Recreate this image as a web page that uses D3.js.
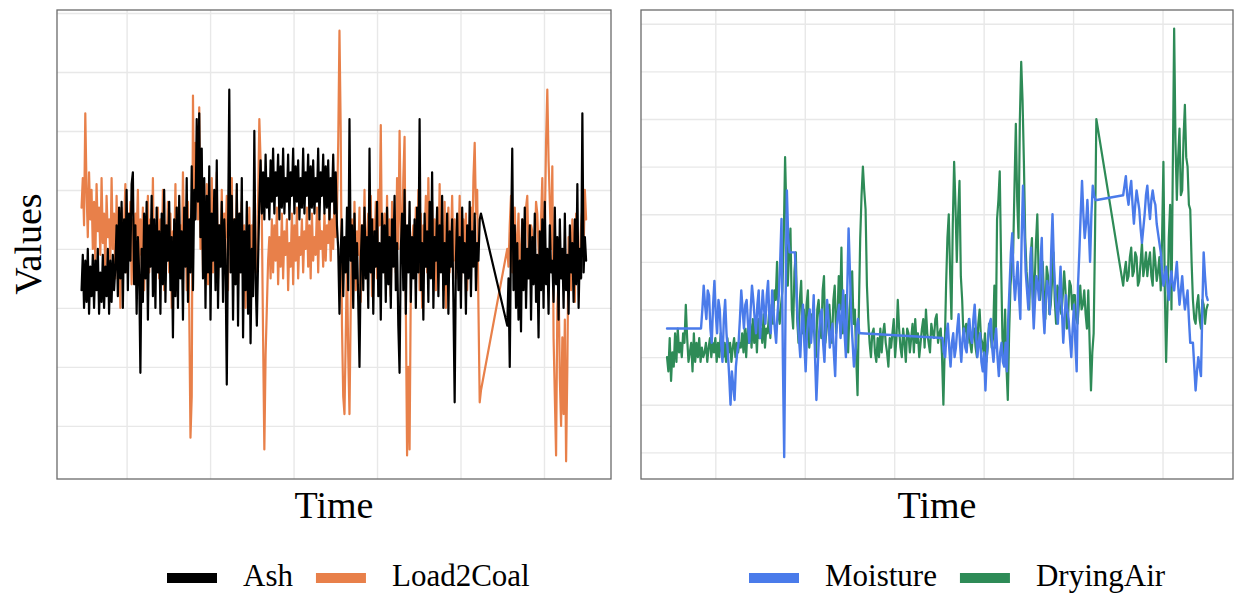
<!DOCTYPE html>
<html>
<head>
<meta charset="utf-8">
<script src="https://cdn.jsdelivr.net/npm/d3@7"></script>
<style>
body { margin: 0; background: #fff; }
svg { display: block; }
text { font-family: "Liberation Serif", "Times New Roman", serif; fill: #000; }
</style>
</head>
<body>
<svg id="chart" width="1235" height="594"></svg>
<script>
// readings are evenly spaced inside each run (time units)
var fineStep = 1.5;
var coarseStep = 3;

var timeTicks = [100, 200, 300, 400, 500, 600];
var leftValueTicks = [10, 20, 30, 40, 50, 60, 70, 80];
var rightValueTicks = [10, 20, 30, 40, 50, 60, 70, 80, 90, 100];

var leftLabels = ['Ash', 'Load2Coal'];
var rightLabels = ['Moisture', 'DryingAir'];

// left panel: two runs of readings, t = 46.. and t = 556..
var leftRunStarts = [46, 556];

var ashRun1 = [
  33, 39, 30, 38, 31, 40, 29, 37, 32, 39, 30, 38, 33, 40, 29, 36, 31, 39, 30, 37,
  32, 40, 29, 38, 31, 39, 33, 37,
  44, 32, 47, 35, 48, 30, 45, 36, 50, 33, 46, 38, 51, 53, 34, 44, 29, 42, 36, 19,
  40, 31, 46, 35, 48, 28, 44, 37, 49, 32, 45, 30, 47, 36, 43, 29, 46, 34, 50, 31,
  44, 38, 48, 33, 42, 25, 45, 32, 47, 30, 49, 35, 43, 28, 47, 37, 52, 31, 45, 36,
  54, 33, 50, 45, 62,
  48, 63, 42, 57, 35, 52, 30, 49, 36, 54, 28, 46, 38, 50, 33, 55, 30, 44, 37, 48,
  31, 45, 38, 17, 42, 67, 36, 49, 28, 45, 34, 51, 27, 46, 36, 52, 25, 43, 33, 48,
  29, 44, 24, 40, 32, 60, 35,
  27, 38, 48, 55, 46, 53, 45, 56, 47, 52, 45, 55, 48, 57, 46, 53, 49, 56, 45, 54,
  47, 57, 46, 52, 48, 56, 45, 53, 49, 57, 46, 54, 48, 55, 45, 52, 47, 57, 46, 53,
  49, 56, 45, 54, 47, 55, 46, 52, 48, 57, 45, 53, 49, 56, 46, 54, 47, 55, 45, 52,
  48, 56, 46, 53, 44, 40,
  29, 40, 45, 32, 42, 36, 47, 33, 62, 38, 44, 30, 46, 35, 41, 31, 20, 38, 44, 33,
  47, 35, 42, 30, 57, 36, 45, 29, 43, 37, 48, 32, 41, 28, 46, 36, 44, 31, 47, 34,
  42, 30, 45, 37, 49, 33, 41, 27, 19, 40, 46, 33, 50, 29, 44, 36, 48, 31, 42, 35,
  45, 30, 47, 36, 62, 33, 41, 28, 46, 37, 43, 31, 48, 35, 53, 30, 42, 38, 47, 32,
  44, 36, 49, 30, 41, 34, 46, 29, 43, 37, 45, 31, 14, 38, 46, 33, 42, 30, 47, 36,
  41, 29, 44, 35, 48, 32, 43, 37, 46, 33, 41, 38, 45, 46
];
var ashRun2 = [
  27, 35, 20, 42, 57, 33, 44, 30, 41, 28, 38, 26, 45, 33, 47, 30, 40, 35, 44, 28,
  42, 34, 46, 31, 39, 25, 43, 33, 45, 30, 48, 34, 40, 29, 44, 36, 38, 31, 47, 34,
  42, 28, 45, 35, 40, 30, 46, 33, 39, 29, 44, 36, 41, 31, 45, 34, 51, 30, 40, 35,
  63, 36, 42, 38
];

var load2CoalRun1 = [
  47, 52, 44, 63, 50, 42, 53, 45, 50, 40, 48, 38, 51, 43, 47, 39, 52, 41, 46, 36,
  49, 42, 45, 38, 52, 40, 46, 35,
  49, 37, 45, 30, 47, 40, 44, 51, 36, 46, 41, 48, 34, 45, 39, 46, 42, 50, 36, 45,
  39, 47, 33, 44, 40, 49, 36, 45, 38, 52, 34, 43, 41, 47, 35, 45, 38, 50, 33, 44,
  40, 48, 36, 46, 30, 43, 39, 51, 35, 47, 41, 44, 36, 53, 40, 45, 33, 48, 30, 8,
  15, 66, 45, 58, 50,
  45, 64, 40, 50, 36, 47, 42, 51, 34, 46, 40, 52, 36, 47, 41, 53, 35, 44, 39, 50,
  37, 46, 42, 49, 33, 47, 40, 52, 36, 45, 38, 50, 34, 46, 41, 48, 35, 44, 30, 43,
  38, 47, 36, 44, 40, 48, 36,
  36, 48, 62, 55, 45, 25, 6, 22, 30, 38, 42, 35, 45, 36, 44, 38, 47, 34, 42, 37,
  46, 35, 43, 39, 45, 33, 41, 37, 46, 34, 44, 38, 47, 35, 42, 39, 45, 36, 43, 40,
  47, 37, 44, 35, 46, 38, 42, 39, 47, 36, 45, 40, 43, 37, 46, 38, 44, 41, 47, 38,
  45, 40, 48, 42, 46, 58,
  77, 60, 27, 15, 12, 25, 38, 22, 12, 30, 45, 36, 48, 33, 43, 39, 47, 31, 44, 38,
  50, 35, 42, 46, 37, 49, 32, 45, 40, 48, 35, 50, 44, 61, 38, 42, 46, 35, 49, 37,
  45, 32, 48, 40, 44, 36, 52, 40, 60, 45, 38, 52, 59, 30, 5, 20, 6, 34, 41, 44,
  36, 47, 38, 50, 33, 46, 30, 44, 41, 49, 36, 52, 40, 43, 48, 36, 45, 33, 47, 39,
  51, 37, 44, 33, 48, 30, 42, 47, 36, 41, 49, 38, 45, 35, 43, 40, 49, 34, 42, 45,
  39, 46, 33, 44, 36, 47, 40, 52, 58, 46, 50, 30, 14, 16
];
var load2CoalRun2 = [
  40, 37, 44, 49, 36, 41, 47, 38, 41, 46, 33, 40, 45, 36, 38, 47, 49, 39, 35, 44,
  43, 36, 39, 48, 46, 40, 37, 45, 52, 38, 44, 58, 67, 55, 48, 40, 54, 25, 15, 5,
  30, 35, 18, 10, 25, 12, 28, 4, 20, 42, 36, 33, 45, 40, 31, 46, 42, 35, 38, 44,
  47, 40, 50, 45
];

// right panel
var dryingAirRunStarts = [46, 556];
var dryingAirRun1 = [
  30, 27, 34, 25, 31, 28, 35, 29, 36, 31, 33, 30, 35, 33, 41, 34, 29, 31, 33, 27,
  35, 29, 33, 30, 34, 29, 32, 30,
  31, 33, 29, 32, 34, 30, 33, 31, 34, 29, 33, 30, 35, 31, 30, 33, 29, 34, 31, 33,
  29, 32, 34, 30, 33, 31, 33,
  32, 35, 31, 36, 30, 36, 33, 37, 32, 38, 33, 37, 31, 38, 34, 36, 33, 39, 32, 36,
  35, 39, 34, 41, 37, 44, 42, 50, 39, 37, 41, 44, 55,
  72, 60, 45, 52, 57, 40, 36, 48, 52, 38, 33, 42, 46,
  35, 40, 31, 41, 44, 32, 35, 39, 38, 34, 30, 40, 42, 37, 34, 44, 47, 33, 36, 39,
  41, 36, 33, 42, 45, 35, 38, 47, 40, 53, 35, 38, 43, 36, 31, 40, 44, 48, 37, 40,
  30, 22, 40, 55, 64, 70,
  65, 61, 45, 38, 33, 30, 35, 36, 31, 29, 34, 30, 36, 31, 35, 37, 33, 31, 28, 34,
  32, 35, 38, 30, 34, 42, 36, 32, 30, 36, 33, 29, 36, 35, 31, 34, 37, 31, 38, 33,
  35, 30, 33, 36, 38, 32, 40, 35, 33, 31, 37, 35, 34, 38, 39, 33, 35, 36, 30,
  20, 32, 45, 55, 60, 48, 38, 58, 71, 62, 50, 60, 67, 47, 42, 34, 36, 37, 33,
  38, 33, 31, 35, 36, 32, 30, 37, 40, 34, 33, 31, 35, 29, 32, 37, 36, 32, 34, 45,
  32, 59, 63, 69, 50, 34,
  30, 40, 28, 21, 35, 45, 49, 52, 66, 79, 63, 55, 80, 92, 84, 71, 55,
  48, 44, 40, 51, 55, 41, 45, 54, 60, 47, 42, 45, 50, 43, 38, 49, 47, 39, 41, 46,
  52, 42, 37, 45, 44, 40, 39, 43, 48, 44, 36, 39, 46, 45, 40, 43, 43, 38, 37, 41,
  45, 40, 41, 44, 39, 36, 44, 33, 23, 31, 35, 55,
  80
];
var dryingAirRun2 = [
  45, 48, 50, 46, 47, 51, 53, 47, 48, 52, 51, 45, 46, 50, 54, 47, 49, 52, 47, 50,
  52, 47, 45, 53, 50, 46, 48, 51, 44, 55, 71, 45, 29, 40, 55, 62, 40, 70, 99, 75,
  63, 72, 78, 64, 65, 76, 83, 72, 70, 62, 61, 50, 42, 38, 37, 41, 43, 38, 36, 42,
  41, 37, 40, 41
];

// moisture: coarser readings, "Mid" values sit half a step after each reading
var moistureRunStarts = [46, 84, 354, 556];
var moistureRun0 = [36];
var moistureRun1 = [
  36, 45, 38, 43, 33, 46, 35, 40, 29, 42, 31, 20, 24, 28, 33,
  44, 36, 42, 33, 45, 38, 41, 34, 44, 37, 46, 35, 40, 33, 43, 59,
  9, 65, 52, 52, 52, 38,
  30, 41, 27, 38, 33, 43, 21, 35, 40, 29, 42, 32, 37, 26, 39, 34, 44, 30, 57, 38,
  28, 36, 35
];
var moistureMid1 = [
  40, 41, 44, 36, 41, 39, 42, 33, 38, 35, 26, 27, 21, 31, 38,
  40, 41, 37, 40, 42, 35, 44, 39, 40, 43, 38, 44, 36, 39, 50,
  30, 40, 55, 52, 52, 45, 34, 37, 33, 35, 40, 37, 30, 28, 39,
  33, 37, 38, 35, 31, 36, 41, 38, 35, 44, 48, 33, 31, 38, 35
];
var moistureRun2 = [
  34, 30, 37, 28, 35, 32, 39, 29, 36, 31, 38, 33, 41, 30, 35, 27, 23, 34, 38, 29,
  36, 26, 33, 28, 27,
  45, 56, 42, 50, 38, 66, 48, 40, 53, 36, 47, 42, 55, 35, 46, 39, 60, 44, 37, 49,
  33, 43, 38, 30, 41, 27,
  52, 67, 55, 63, 50, 66, 63
];
var moistureMid2 = [
  31, 35, 32, 33, 30, 36, 33, 34, 32, 36, 34, 38, 35, 33, 29, 31, 30, 37, 32, 33,
  30, 31, 29, 33, 38, 52, 47, 46, 43, 55, 57, 44, 46, 43, 42, 45, 50, 40, 42, 44,
  52, 50, 40, 43, 40, 38, 40, 34, 36, 33, 45, 60, 60, 58, 57, 60, 64, 63
];
var moistureRun3 = [
  64, 68, 62, 67, 58, 65, 61, 54, 60, 66, 59, 65, 62, 56,
  52, 45, 49, 42, 48, 44, 50, 41, 47, 40, 44,
  33, 33, 23, 30, 26, 52, 43
];
var moistureMid3 = [
  66, 64, 65, 62, 62, 63, 57, 57, 64, 62, 63, 63, 58, 54, 48, 47, 45, 46, 45, 47,
  45, 44, 43, 42, 38, 33, 28, 27, 28, 40, 47, 42
];

function toPoints(starts, runs, stepSize, mids) {
  var pts = [];
  runs.forEach(function (run, r) {
    run.forEach(function (v, i) {
      var t = starts[r] + i * stepSize;
      pts.push([t, v]);
      if (mids && mids[r] && mids[r][i] !== undefined) pts.push([t + stepSize / 2, mids[r][i]]);
    });
  });
  return pts;
}

var svg = d3.select('#chart');
var gridColor = '#e8e8e8';
var borderColor = '#6a6a6a';

function drawPanel(p) {
  var g = svg.append('g');
  var left = p.x.range()[0], right = p.x.range()[1];
  var bottom = p.y.range()[0], top = p.y.range()[1];

  g.append('g')
    .attr('transform', 'translate(0,' + bottom + ')')
    .call(d3.axisBottom(p.x).tickValues(timeTicks).tickSize(-(bottom - top)).tickFormat(''))
    .call(function (a) { a.select('.domain').remove(); })
    .selectAll('line').attr('stroke', gridColor).attr('stroke-width', 1.4);

  g.append('g')
    .attr('transform', 'translate(' + left + ',0)')
    .call(d3.axisLeft(p.y).tickValues(p.yTicks).tickSize(-(right - left)).tickFormat(''))
    .call(function (a) { a.select('.domain').remove(); })
    .selectAll('line').attr('stroke', gridColor).attr('stroke-width', 1.4);

  var line = d3.line()
    .x(function (d) { return p.x(d[0]); })
    .y(function (d) { return p.y(d[1]); });

  p.series.forEach(function (s) {
    g.append('path')
      .datum(s.points)
      .attr('d', line)
      .attr('fill', 'none')
      .attr('stroke', s.color)
      .attr('stroke-width', s.width)
      .attr('stroke-linejoin', 'round')
      .attr('stroke-linecap', 'round');
  });

  g.append('rect')
    .attr('x', left).attr('y', top)
    .attr('width', right - left).attr('height', bottom - top)
    .attr('fill', 'none')
    .attr('stroke', borderColor)
    .attr('stroke-width', 1.3);

  g.append('text')
    .attr('x', (left + right) / 2)
    .attr('y', 518)
    .attr('text-anchor', 'middle')
    .attr('font-size', 38)
    .text('Time');
}

function drawLegend(labels, colors, startX) {
  var x = startX;
  labels.forEach(function (label, i) {
    svg.append('rect')
      .attr('x', x).attr('y', 573)
      .attr('width', 50).attr('height', 10)
      .attr('fill', colors[i]);
    var t = svg.append('text')
      .attr('x', x + 76)
      .attr('y', 586)
      .attr('font-size', 31)
      .text(label);
    x = x + 76 + t.node().getComputedTextLength() + 23;
  });
}

var ashColor = '#000000';
var coalColor = '#E8804A';
var moistureColor = '#4A7BEA';
var airColor = '#2E8B57';

drawPanel({
  x: d3.scaleLinear().domain([16.6, 680.3]).range([57, 611]),
  y: d3.scaleLinear().domain([1.0, 80.5]).range([479, 10]),
  yTicks: leftValueTicks,
  series: [
    { points: toPoints(leftRunStarts, [load2CoalRun1, load2CoalRun2], fineStep), color: coalColor, width: 2.2 },
    { points: toPoints(leftRunStarts, [ashRun1, ashRun2], fineStep), color: ashColor, width: 2.2 }
  ]
});

drawPanel({
  x: d3.scaleLinear().domain([16.9, 678.8]).range([641, 1233]),
  y: d3.scaleLinear().domain([4.4, 102.9]).range([479, 10]),
  yTicks: rightValueTicks,
  series: [
    { points: toPoints(dryingAirRunStarts, [dryingAirRun1, dryingAirRun2], fineStep), color: airColor, width: 2.2 },
    { points: toPoints(moistureRunStarts, [moistureRun0, moistureRun1, moistureRun2, moistureRun3], coarseStep,
        [null, moistureMid1, moistureMid2, moistureMid3]), color: moistureColor, width: 2.4 }
  ]
});

svg.append('text')
  .attr('transform', 'translate(41,244) rotate(-90)')
  .attr('text-anchor', 'middle')
  .attr('font-size', 38)
  .text('Values');

drawLegend(leftLabels, [ashColor, coalColor], 167);
drawLegend(rightLabels, [moistureColor, airColor], 749);
</script>
</body>
</html>
